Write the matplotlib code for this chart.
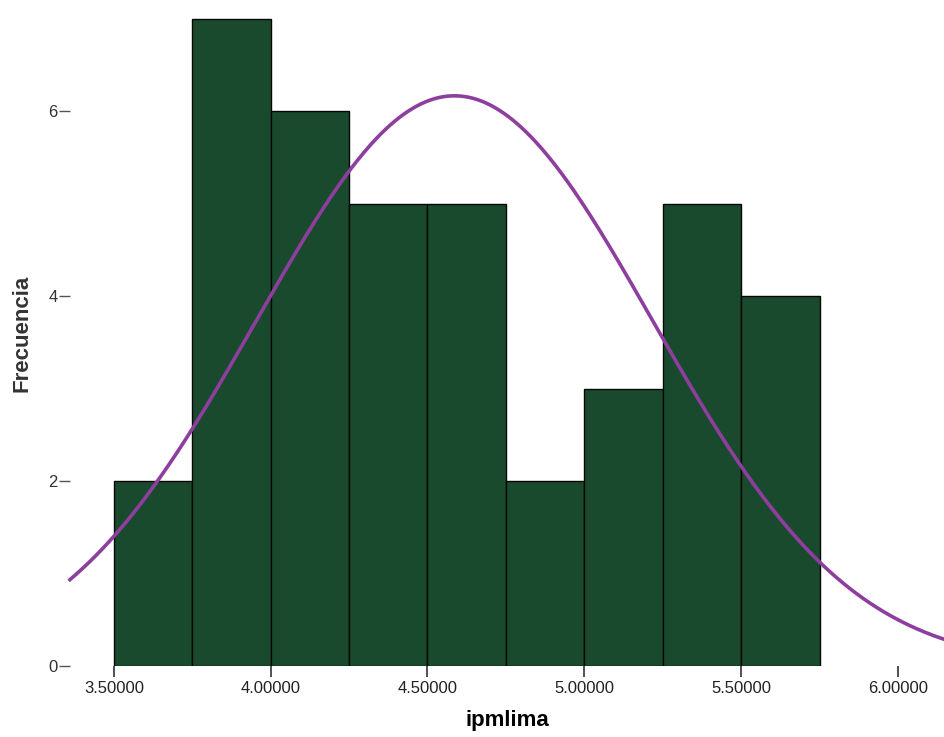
import matplotlib
matplotlib.use('Agg')
import matplotlib.pyplot as plt
import numpy as np

# histogram of ipmlima (bin width 0.25)
bin_edges = [3.50, 3.75, 4.00, 4.25, 4.50, 4.75, 5.00, 5.25, 5.50, 5.75]
counts = [2, 7, 6, 5, 5, 2, 3, 5, 4]
xticks = [3.5, 4.0, 4.5, 5.0, 5.5, 6.0]
xticklabels = ['3.50000', '4.00000', '4.50000', '5.00000', '5.50000', '6.00000']
yticks = [0, 2, 4, 6]

# fitted normal curve parameters (read from the peak and tails)
mean = 4.586
sd = 0.631
n = sum(counts)
bw = 0.25

fig = plt.figure(figsize=(9.45, 7.37), dpi=100)
ax = fig.add_axes([0.074, 0.0963, 0.926, 0.9037])

lefts = bin_edges[:-1]
ax.bar(lefts, counts, width=bw, align='edge', color='#1a4a2d',
       edgecolor='#050505', linewidth=1.0)

xlo, xhi = 3.36, 6.15
xs = np.linspace(xlo, xhi, 400)
ys = n * bw / (sd * np.sqrt(2 * np.pi)) * np.exp(-0.5 * ((xs - mean) / sd) ** 2)
ax.plot(xs, ys, color='#8e3e9e', linewidth=2.6, clip_on=False)

ax.set_xlim(xlo, xhi)
ax.set_ylim(0, 7.2)
for s in ax.spines.values():
    s.set_visible(False)

ax.set_xticks(xticks)
ax.set_xticklabels(xticklabels, fontsize=12, family='Liberation Sans', color='#222222')
ax.set_yticks(yticks)
ax.set_yticklabels([str(v) for v in yticks], fontsize=12, family='Liberation Sans', color='#333333')
ax.tick_params(axis='x', direction='out', length=8, width=1.2, pad=3, color='#333333')
ax.tick_params(axis='y', direction='out', length=8, width=1.0, pad=1, color='#555555')

ax.set_xlabel('ipmlima', fontsize=16, fontweight='bold', family='Liberation Sans', labelpad=10)
ax.set_ylabel('Frecuencia', fontsize=16, fontweight='bold', family='Liberation Sans',
              color='#333333', labelpad=11)

fig.savefig('out.png', dpi=100)
